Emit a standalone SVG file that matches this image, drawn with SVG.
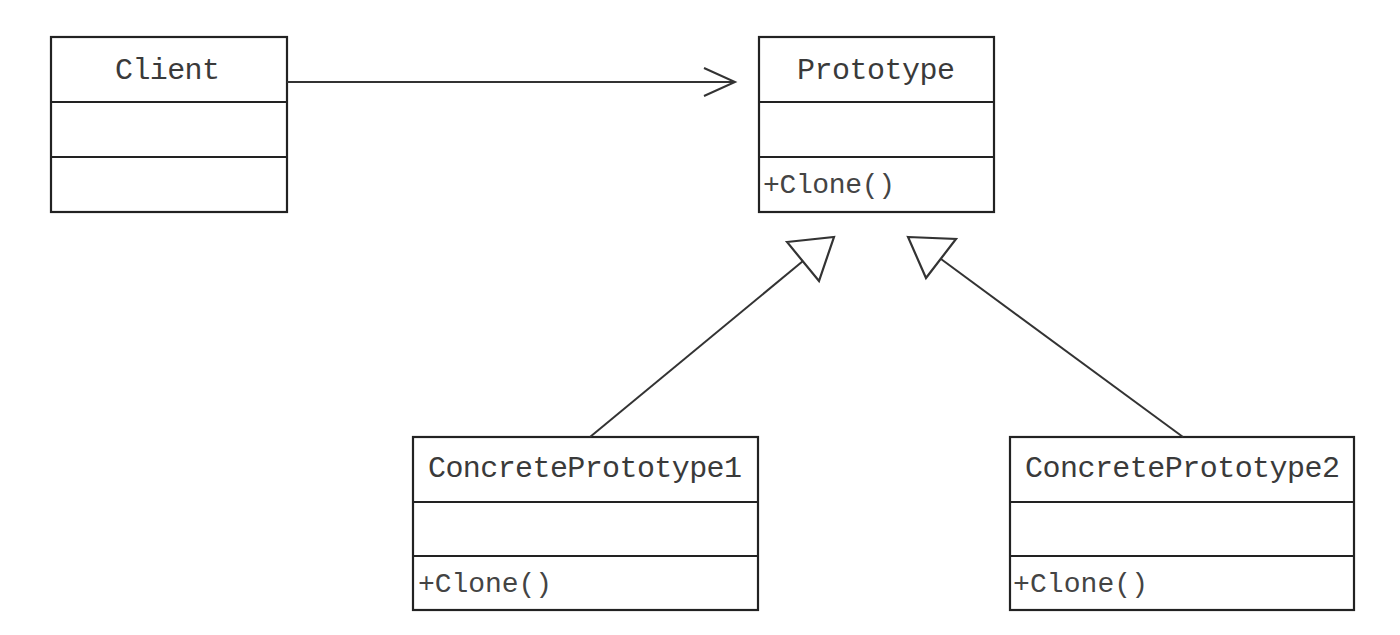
<svg xmlns="http://www.w3.org/2000/svg" width="1400" height="635" viewBox="0 0 1400 635">
<style>
.box{fill:#fff;stroke:#222;stroke-width:2.2}
.div{stroke:#222;stroke-width:2.2}
.name{font-family:"Liberation Mono",monospace;font-size:30px;fill:#3a3a3a;text-anchor:middle}
.op{font-family:"Liberation Mono",monospace;font-size:28px;fill:#444}
.conn{fill:none;stroke:#333;stroke-width:2}
.tri{fill:#fff;stroke:#333;stroke-width:2.2;stroke-linejoin:miter}
</style>
<rect width="1400" height="635" fill="#fff"/>
<g id="client">
<rect class="box" x="51" y="37" width="236" height="175"/>
<line class="div" x1="51" y1="102" x2="287" y2="102"/>
<line class="div" x1="51" y1="157" x2="287" y2="157"/>
<text class="name" x="167.5" y="79" textLength="105">Client</text>
</g>
<g id="prototype">
<rect class="box" x="759" y="37" width="235" height="175"/>
<line class="div" x1="759" y1="102" x2="994" y2="102"/>
<line class="div" x1="759" y1="157" x2="994" y2="157"/>
<text class="name" x="876" y="79" textLength="158">Prototype</text>
<text class="op" x="763" y="193" textLength="132">+Clone()</text>
</g>
<g id="concrete1">
<rect class="box" x="413" y="437" width="345" height="173"/>
<line class="div" x1="413" y1="502" x2="758" y2="502"/>
<line class="div" x1="413" y1="556" x2="758" y2="556"/>
<text class="name" x="585" y="477" textLength="314">ConcretePrototype1</text>
<text class="op" x="418" y="592" textLength="134">+Clone()</text>
</g>
<g id="concrete2">
<rect class="box" x="1010" y="437" width="344" height="173"/>
<line class="div" x1="1010" y1="502" x2="1354" y2="502"/>
<line class="div" x1="1010" y1="556" x2="1354" y2="556"/>
<text class="name" x="1182.5" y="477" textLength="315">ConcretePrototype2</text>
<text class="op" x="1013" y="592" textLength="135">+Clone()</text>
</g>
<g id="connectors">
<line class="conn" x1="287" y1="82" x2="735" y2="82"/>
<polyline class="conn" points="704,68 735,82 704,96"/>
<line class="conn" x1="590" y1="437" x2="803" y2="261"/>
<polygon class="tri" points="787,242 834,237 819,281"/>
<line class="conn" x1="1183" y1="437" x2="941" y2="259"/>
<polygon class="tri" points="908,237 956,239 926,278"/>
</g>
</svg>
